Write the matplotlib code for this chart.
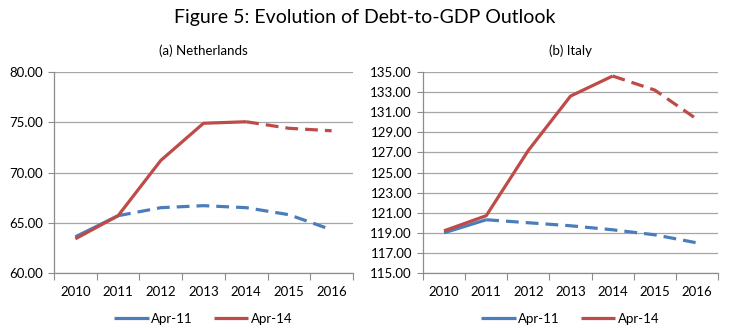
import matplotlib
matplotlib.use("Agg")
import matplotlib.pyplot as plt
import numpy as np

years = ["2010", "2011", "2012", "2013", "2014", "2015", "2016"]

nl_apr11 = [63.6, 65.7, 66.5, 66.7, 66.5, 65.8, 64.3]
nl_apr14 = [63.4, 65.7, 71.2, 74.9, 75.05, 74.4, 74.15]

it_apr11 = [119.0, 120.3, 120.0, 119.7, 119.3, 118.8, 118.0]
it_apr14 = [119.2, 120.7, 127.2, 132.6, 134.6, 133.2, 130.3]

# index of the last actual (non-forecast) year for each vintage
last_actual_apr11 = 1
last_actual_apr14 = 4

BLUE = "#4A7EBB"
RED = "#BE4B48"
GRID = "#A6A6A6"
AXIS = "#8C8C8C"
FONT = ["Lato", "DejaVu Sans"]

W, H = 730, 329
fig = plt.figure(figsize=(W / 100, H / 100), dpi=100)
plt.rcParams["font.family"] = FONT


def draw_panel(rect, title, s11, s14, ymin, ymax, ystep):
    l, t, r, b = rect
    ax = fig.add_axes([l / W, 1 - b / H, (r - l) / W, (b - t) / H])
    x = np.arange(len(years))
    for vals, col, k, lab in ((s11, BLUE, last_actual_apr11, "Apr-11"),
                              (s14, RED, last_actual_apr14, "Apr-14")):
        ax.plot(x[:k + 1], vals[:k + 1], color=col, lw=2.3, label=lab,
                solid_joinstyle="round", solid_capstyle="butt", zorder=3)
        ax.plot(x[k:], vals[k:], color=col, lw=2.3, dashes=(4, 2.2),
                dash_capstyle="butt", zorder=3)
    ax.set_xlim(-0.5, len(years) - 0.5)
    ax.set_ylim(ymin, ymax)
    yt = np.arange(ymin, ymax + 0.001, ystep)
    ax.set_yticks(yt)
    ax.set_yticklabels([f"{v:.2f}" for v in yt], fontsize=9.5)
    ax.set_xticks(x)
    ax.set_xticklabels(years, fontsize=9.5)
    ax.set_xticks(np.arange(-0.5, len(years)), minor=True)
    ax.tick_params(axis="x", which="major", length=0, pad=9)
    ax.tick_params(axis="x", which="minor", length=5, color=AXIS, width=0.8)
    ax.tick_params(axis="y", length=4, color=AXIS, width=0.8, pad=4)
    ax.grid(axis="y", color=GRID, lw=0.9, zorder=0)
    for s in ("top", "right"):
        ax.spines[s].set_visible(False)
    for s in ("left", "bottom"):
        ax.spines[s].set_color(AXIS)
        ax.spines[s].set_linewidth(0.9)
    ax.set_title(title, fontsize=9.5, pad=12)
    leg = ax.legend(loc="upper center", bbox_to_anchor=(0.5, -0.14), ncol=2,
                    frameon=False, fontsize=9.5, handlelength=2.6,
                    handletextpad=0.2, columnspacing=1.6)
    return ax


draw_panel((54, 72, 353, 273), "(a) Netherlands", nl_apr11, nl_apr14, 60, 80, 5)
draw_panel((423, 72, 718, 273), "(b) Italy", it_apr11, it_apr14, 115, 135, 2)

fig.text(0.5, 1 - 18 / H, "Figure 5: Evolution of Debt-to-GDP Outlook",
         ha="center", va="center", fontsize=14)

fig.savefig("out.png", dpi=100)
